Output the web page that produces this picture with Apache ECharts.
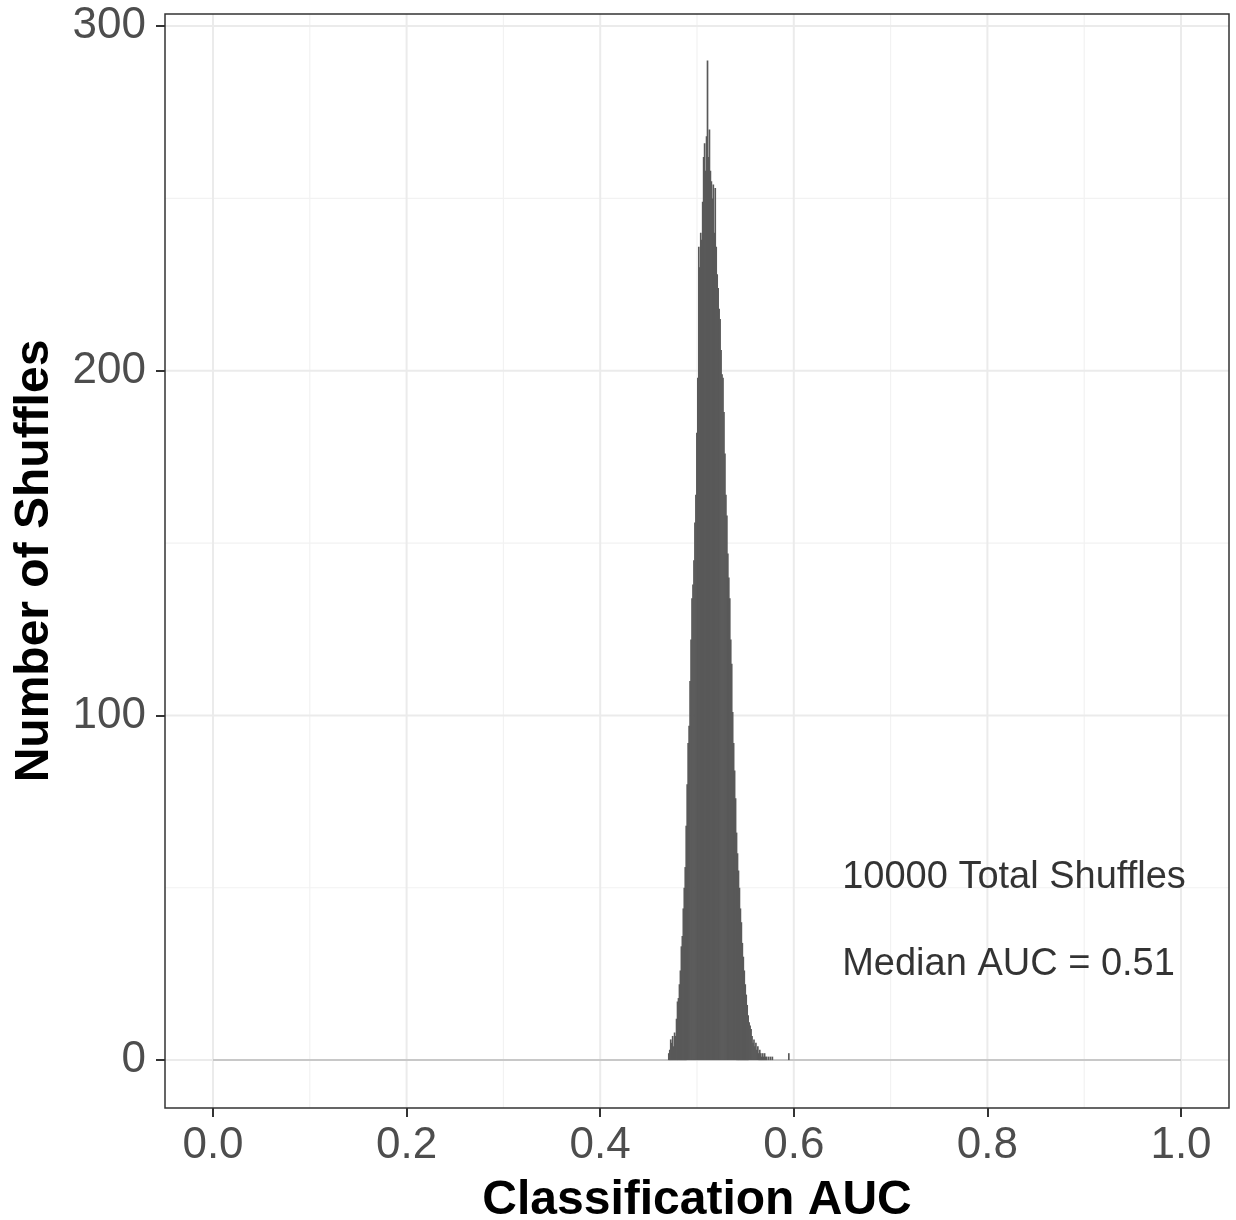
<!DOCTYPE html>
<html>
<head>
<meta charset="utf-8">
<script src="https://cdn.jsdelivr.net/npm/echarts@6/dist/echarts.min.js"></script>
<style>
html,body{margin:0;padding:0;background:#fff;}
#chart{width:1236px;height:1220px;}
</style>
</head>
<body>
<div id="chart"></div>
<script>
// ---- data ----
const binStart = 0.470;
const binWidth = 0.001;
const counts = [
  2, 3, 6, 5, 7, 4, 8, 7, 12, 17,
  18, 22, 26, 33, 36, 44, 50, 56, 68, 80,
  92, 97, 110, 122, 134, 138, 145, 156, 164, 182,
  198, 236, 230, 240, 238, 249, 262, 266, 258, 268,
  290, 262, 270, 258, 255, 250, 254, 240, 253, 236,
  228, 224, 218, 215, 206, 199, 198, 188, 176, 164,
  158, 147, 140, 134, 122, 115, 101, 92, 84, 76,
  66, 60, 55, 50, 44, 40, 34, 30, 26, 22,
  19, 16, 13, 11, 10, 9, 7, 5, 6, 4,
  5, 3, 4, 2, 3, 2, 1, 2, 1, 2,
  1, 1, 0, 1, 0, 1, 0, 1, 0, 0,
  0, 0, 0, 0, 0, 0, 0, 0, 0, 0,
  0, 0, 0, 0, 2
];
const zeroLine = [[0, 0], [1, 0]];
const xTicks = [0, 0.2, 0.4, 0.6, 0.8, 1.0];
const xMinor = [0.1, 0.3, 0.5, 0.7, 0.9];
const yTicks = [0, 100, 200, 300];
const yMinor = [50, 150, 250];
const annotations = ['10000 Total Shuffles', 'Median AUC = 0.51'];

// ---- build ----
const histData = counts.map((c, i) => {
  const x0 = +(binStart + i * binWidth).toFixed(4);
  return [x0, +(x0 + binWidth).toFixed(4), c];
});

const FONT = '"Liberation Sans", Arial, Helvetica, sans-serif';
const X_MIN = -0.0496, X_MAX = 1.0496, Y_MIN = -13.9, Y_MAX = 303.5;

// gridline items: [orientation, value, major]
const gridItems = [];
xMinor.forEach(v => gridItems.push(['v', v, 0]));
yMinor.forEach(v => gridItems.push(['h', v, 0]));
xTicks.forEach(v => gridItems.push(['v', v, 1]));
yTicks.forEach(v => gridItems.push(['h', v, 1]));

const annPos = [[0.65, 52.9], [0.65, 27.6]];

const chart = echarts.init(document.getElementById('chart'), null, { renderer: 'canvas' });
chart.setOption({
  animation: false,
  backgroundColor: '#ffffff',
  grid: {
    left: 165, top: 14, right: 7, bottom: 112,
    containLabel: false, outerBoundsMode: 'none',
    show: true, borderColor: '#333333', borderWidth: 1.5, backgroundColor: 'transparent', z: 10
  },
  xAxis: {
    type: 'value', min: X_MIN, max: X_MAX,
    name: 'Classification AUC', nameLocation: 'middle', nameGap: 69,
    nameTextStyle: { fontFamily: FONT, fontSize: 48, fontWeight: 'bold', color: '#000' },
    axisLine: { show: false, onZero: false },
    splitLine: { show: false },
    axisTick: { show: true, length: 9, lineStyle: { color: '#333', width: 2 }, customValues: xTicks },
    axisLabel: {
      fontFamily: FONT, fontSize: 44, color: '#4d4d4d', margin: 16,
      customValues: xTicks, formatter: v => v.toFixed(1)
    }
  },
  yAxis: {
    type: 'value', min: Y_MIN, max: Y_MAX,
    name: 'Number of Shuffles', nameLocation: 'middle', nameGap: 106, nameRotate: 90,
    nameTextStyle: { fontFamily: FONT, fontSize: 48, fontWeight: 'bold', color: '#000' },
    axisLine: { show: false, onZero: false },
    splitLine: { show: false },
    axisTick: { show: true, length: 9, lineStyle: { color: '#333', width: 2 }, customValues: yTicks },
    axisLabel: {
      fontFamily: FONT, fontSize: 44, color: '#4d4d4d', margin: 19,
      customValues: yTicks, formatter: v => String(v)
    }
  },
  series: [
    {
      type: 'custom', z: 0, silent: true,
      data: gridItems,
      renderItem: function (params, api) {
        const o = gridItems[params.dataIndex];
        const style = o[2] ? { stroke: '#ebebeb', lineWidth: 2 } : { stroke: '#f2f2f2', lineWidth: 1.2 };
        let a, b;
        if (o[0] === 'v') { a = api.coord([o[1], Y_MIN]); b = api.coord([o[1], Y_MAX]); }
        else { a = api.coord([X_MIN, o[1]]); b = api.coord([X_MAX, o[1]]); }
        return { type: 'line', shape: { x1: a[0], y1: a[1], x2: b[0], y2: b[1] }, style: style };
      },
      encode: { x: [], y: [] }
    },
    {
      type: 'line', data: zeroLine, silent: true, z: 2, symbol: 'none',
      lineStyle: { color: '#c8c8c8', width: 2 }
    },
    {
      type: 'custom', z: 3, silent: true,
      data: histData,
      encode: { x: [0, 1], y: 2 },
      renderItem: function (params, api) {
        const x0 = api.value(0), x1 = api.value(1), y = api.value(2);
        if (y <= 0) return null;
        const p0 = api.coord([x0, y]);
        const p1 = api.coord([x1, 0]);
        return {
          type: 'rect',
          shape: { x: p0[0], y: p0[1], width: p1[0] - p0[0] + 0.7, height: p1[1] - p0[1] },
          style: { fill: '#595959' }
        };
      }
    },
    {
      type: 'scatter', z: 4, silent: true, symbolSize: 0,
      data: annotations.map((t, i) => [annPos[i][0], annPos[i][1], t]),
      label: {
        show: true, position: 'right', distance: 0,
        formatter: p => p.value[2],
        fontFamily: FONT, fontSize: 38, color: '#000'
      }
    }
  ]
});
</script>
</body>
</html>
